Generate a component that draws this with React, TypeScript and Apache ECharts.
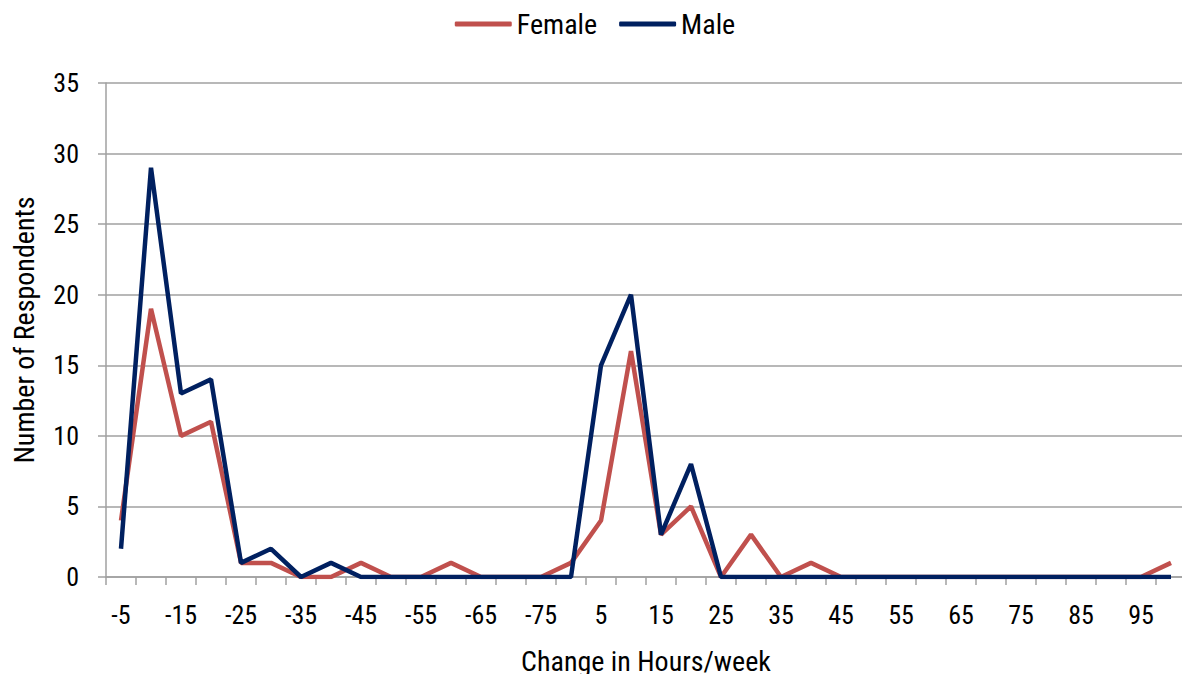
import React, { useEffect, useRef } from "react";
import * as echarts from "echarts";

// Change in weekly hours (negative = decrease), then increases
const categories: string[] = [
  "-5", "-10", "-15", "-20", "-25", "-30", "-35", "-40", "-45", "-50", "-55", "-60", "-65", "-70", "-75", "-80",
  "5", "10", "15", "20", "25", "30", "35", "40", "45", "50", "55", "60", "65", "70", "75", "80", "85", "90", "95", "100",
];

const femaleCounts: number[] = [
  4, 19, 10, 11, 1, 1, 0, 0, 1, 0, 0, 1, 0, 0, 0, 1,
  4, 16, 3, 5, 0, 3, 0, 1, 0, 0, 0, 0, 0, 0, 0, 0, 0, 0, 0, 1,
];

const maleCounts: number[] = [
  2, 29, 13, 14, 1, 2, 0, 1, 0, 0, 0, 0, 0, 0, 0, 0,
  15, 20, 3, 8, 0, 0, 0, 0, 0, 0, 0, 0, 0, 0, 0, 0, 0, 0, 0, 0,
];

const FONT = "'Liberation Sans Narrow', 'Arial Narrow', 'Roboto Condensed', Roboto, sans-serif";

export default function App() {
  const ref = useRef<HTMLDivElement>(null);

  useEffect(() => {
    if (!ref.current) return;
    const chart = echarts.init(ref.current, undefined, { renderer: "svg" });
    chart.setOption({
      animation: false,
      textStyle: { fontFamily: FONT },
      legend: {
        top: 5,
        left: "center",
        itemWidth: 57,
        itemHeight: 5,
        itemGap: 22,
        icon: "roundRect",
        textStyle: { fontFamily: FONT, fontSize: 28, color: "#000" },
        data: ["Female", "Male"],
      },
      grid: { left: 106, right: 4, top: 83, bottom: 105, containLabel: false },
      xAxis: {
        type: "category",
        data: categories,
        boundaryGap: true,
        name: "Change in Hours/week",
        nameLocation: "middle",
        nameGap: 70,
        nameTextStyle: { fontFamily: FONT, fontSize: 28, color: "#000" },
        axisLine: { lineStyle: { color: "#A0A0A0", width: 1.5 } },
        axisTick: { show: true, interval: 0, length: 8, lineStyle: { color: "#A0A0A0", width: 1.5 } },
        axisLabel: { interval: 1, margin: 25, fontFamily: FONT, fontSize: 26, color: "#000" },
        splitLine: { show: false },
      },
      yAxis: {
        type: "value",
        min: 0,
        max: 35,
        interval: 5,
        name: "Number of Respondents",
        nameLocation: "middle",
        nameGap: 68,
        nameTextStyle: { fontFamily: FONT, fontSize: 28, color: "#000" },
        axisLine: { show: true, lineStyle: { color: "#A0A0A0", width: 1.5 } },
        axisTick: { show: true, length: 8, lineStyle: { color: "#A0A0A0", width: 1.5 } },
        axisLabel: { margin: 27, fontFamily: FONT, fontSize: 26, color: "#000" },
        splitLine: { show: true, lineStyle: { color: "#A0A0A0", width: 1.5 } },
      },
      series: [
        {
          name: "Female",
          type: "line",
          data: femaleCounts,
          symbol: "none",
          lineStyle: { color: "#C0504D", width: 4.5 },
          itemStyle: { color: "#C0504D" },
        },
        {
          name: "Male",
          type: "line",
          data: maleCounts,
          symbol: "none",
          lineStyle: { color: "#002060", width: 4.5 },
          itemStyle: { color: "#002060" },
        },
      ],
    });
    return () => chart.dispose();
  }, []);

  return <div ref={ref} style={{ width: 1190, height: 682, margin: -8 }} />;
}
